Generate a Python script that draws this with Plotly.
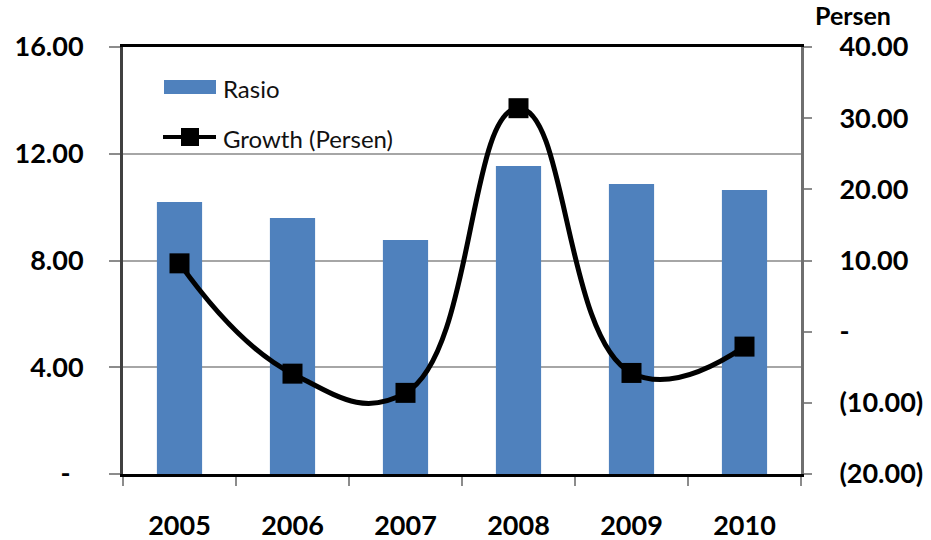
import plotly.graph_objects as go

# Data
years = ["2005", "2006", "2007", "2008", "2009", "2010"]
rasio = [10.19, 9.59, 8.77, 11.54, 10.87, 10.64]          # left axis
growth = [9.6, -5.9, -8.6, 31.4, -5.8, -2.1]               # right axis, percent

left_ticks = [0, 4, 8, 12, 16]
left_text = ["-\u00a0\u00a0", "4.00", "8.00", "12.00", "16.00"]
right_ticks = [-20, -10, 0, 10, 20, 30, 40]
right_text = ["(20.00)", "(10.00)", "-", "10.00", "20.00", "30.00", "40.00"]

BLUE = "#4F81BD"
TICK_GRAY = "#8c8c8c"
FONT = "Lato"
TICK_FONT = dict(family=FONT, size=27, color="black", weight="bold")

fig = go.Figure()

fig.add_trace(go.Bar(
    x=years, y=rasio, name="Rasio",
    marker=dict(color=BLUE, line=dict(width=0)),
    width=0.4,
))

fig.add_trace(go.Scatter(
    x=years, y=growth, name="Growth (Persen)", yaxis="y2",
    mode="lines+markers",
    line=dict(color="black", width=5, shape="spline", smoothing=1.3),
    marker=dict(symbol="square", size=20, color="black"),
))

# Plot-area geometry in pixels, used to place the hand-drawn legend
L, R, T, B = 123, 801, 47, 474


def px(x):
    return (x - L) / (R - L)


def py(y):
    return (B - y) / (B - T)


shapes = [
    # legend swatch for the bars
    dict(type="rect", xref="paper", yref="paper",
         x0=px(164), x1=px(216), y0=py(94), y1=py(80),
         fillcolor=BLUE, line=dict(width=0)),
    # legend swatch for the line
    dict(type="line", xref="paper", yref="paper",
         x0=px(163), x1=px(216), y0=py(137), y1=py(137),
         line=dict(color="black", width=4)),
    dict(type="rect", xref="paper", yref="paper",
         x0=px(181), x1=px(199), y0=py(146), y1=py(128),
         fillcolor="black", line=dict(width=0)),
]

annotations = [
    dict(text="Rasio", xref="paper", yref="paper", x=px(221), y=py(88),
         xanchor="left", yanchor="middle", showarrow=False,
         font=dict(family=FONT, size=24, color="#111111")),
    dict(text="Growth (Persen)", xref="paper", yref="paper", x=px(221), y=py(138),
         xanchor="left", yanchor="middle", showarrow=False,
         font=dict(family=FONT, size=24, color="#111111")),
    dict(text="<b>Persen</b>", xref="paper", yref="paper", x=px(813), y=py(15),
         xanchor="left", yanchor="middle", showarrow=False,
         font=dict(family=FONT, size=25, color="black")),
]

fig.update_layout(
    width=931, height=540,
    margin=dict(l=L, r=931 - R, t=T, b=540 - B),
    plot_bgcolor="white", paper_bgcolor="white",
    showlegend=False,
    font=dict(family=FONT, color="black"),
    shapes=shapes,
    annotations=annotations,
    xaxis=dict(
        type="category", automargin=False,
        showline=True, linecolor="black", linewidth=3, mirror=True,
        ticks="outside", tickson="boundaries", ticklen=9,
        tickcolor=TICK_GRAY, tickwidth=2,
        tickfont=TICK_FONT,
        ticklabelstandoff=26,
        showgrid=False, zeroline=False,
    ),
    yaxis=dict(
        range=[0, 16], tickvals=left_ticks, ticktext=left_text,
        automargin=False,
        showgrid=True, gridcolor="#a6a6a6", gridwidth=1.5,
        showline=True, linecolor="#404040", linewidth=3,
        ticks="outside", ticklen=11, tickcolor=TICK_GRAY, tickwidth=2,
        tickfont=TICK_FONT,
        ticklabelstandoff=20,
        zeroline=False,
    ),
    yaxis2=dict(
        overlaying="y", side="right", automargin=False,
        range=[-20, 40], tickvals=right_ticks, ticktext=right_text,
        showgrid=False, zeroline=False,
        showline=True, linecolor="#6f6f6f", linewidth=3,
        ticks="outside", ticklen=8, tickcolor=TICK_GRAY, tickwidth=2,
        tickfont=TICK_FONT,
        ticklabelstandoff=22,
    ),
)

fig.write_html("out.html")
